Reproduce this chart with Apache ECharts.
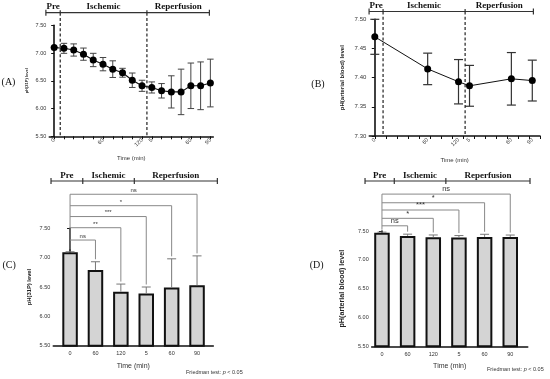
<!DOCTYPE html>
<html><head><meta charset="utf-8">
<script src="https://cdn.jsdelivr.net/npm/echarts@6/dist/echarts.min.js"></script>
<style>html,body{margin:0;padding:0;background:#fff}#c{width:550px;height:379px}</style>
</head><body><div id="c"></div>
<script>
// ---------- Panel A: pH(31P) time course ----------
const aX = [0,1,2,3,4,5,6,7,8,9,10,11,12,13,14,15,16];
const aMean = [7.10,7.085,7.055,6.98,6.875,6.80,6.71,6.645,6.51,6.41,6.38,6.32,6.30,6.30,6.41,6.41,6.46];
const aErr = [0.0,0.09,0.11,0.11,0.12,0.12,0.15,0.08,0.13,0.10,0.10,0.13,0.29,0.41,0.41,0.43,0.43];
const aLabelPos = [0,5,9,10,14,16];
const aLabels = ['0','60','120','5','60','90'];
const aDividers = [-0.85,0.62,9.5,15.9];

// ---------- Panel B: pH(arterial blood) time course ----------
const bX = [0,4.8,7.6,8.6,12.4,14.3];
const bMean = [7.470,7.415,7.393,7.386,7.398,7.395];
const bErr = [0.030,0.027,0.038,0.035,0.045,0.035];
const bTicks = [0,1,2,3,4,5,6,7,8,9,10,11,12,13,14,15];
const bLabels = ['0','60','120','5','60','90'];
const bDividers = [-0.52,0.75,8.2,14.4];

// ---------- Panel C: pH(31P) bars ----------
const cCats = ['0','60','120','5','60','90'];
const cMean = [7.09,6.79,6.42,6.39,6.49,6.53];
const cErr = [0.01,0.14,0.13,0.11,0.49,0.50];
const cSigLevels = [7.30,7.51,7.70,7.885,8.08];
const cSigLabels = ['ns','**','***','*','ns'];
const cDividers = [-0.75,0.5,2.53,5.8];

// ---------- Panel D: pH(arterial blood) bars ----------
const dCats = ['0','60','120','5','60','90'];
const dMean = [7.47,7.415,7.393,7.386,7.398,7.395];
const dErr = [0.01,0.03,0.038,0.035,0.045,0.035];
const dSigLevels = [7.59,7.72,7.864,7.99,8.14];
const dSigLabels = ['ns','*','***','*','ns'];
const dDividers = [-0.66,0.48,2.49,5.77];

const headerNames = ['Pre','Ischemic','Reperfusion'];
const sans = 'Liberation Sans, Arial, sans-serif';
const serif = 'Liberation Serif, Times New Roman, serif';

function near(arr, v){ for (let i=0;i<arr.length;i++) if (Math.abs(arr[i]-v)<1e-6) return i; return -1; }

function yAx(gi, min, max, interval, fs, name, nameSize, nameGap){
  return {type:'value', gridIndex:gi, min:min, max:max, interval:interval,
    axisLine:{show:true, lineStyle:{color:'#111', width:1.6}},
    axisTick:{show:true, length:3, lineStyle:{color:'#111', width:1}},
    axisLabel:{fontSize:fs, color:'#333', fontFamily:sans, margin:3, formatter: v => v.toFixed(2)},
    splitLine:{show:false},
    name:name, nameLocation:'middle', nameGap:nameGap, nameRotate:90, nameMoveOverlap:false,
    nameTextStyle:{fontSize:nameSize, color:'#222', fontFamily:sans, fontWeight:'bold'}};
}
function xAxLine(gi, min, max, ticks, labelPos, labels, nameGap){
  return {type:'value', gridIndex:gi, min:min, max:max,
    axisLine:{show:true, onZero:false, lineStyle:{color:'#111', width:1.6}},
    axisTick:{show:true, length:3, customValues:ticks, lineStyle:{color:'#111', width:1}},
    axisLabel:{customValues:labelPos, rotate:45, fontSize:5.5, color:'#333', fontFamily:sans, margin:3,
      formatter: v => { const i = near(labelPos, v); return i>=0 ? labels[i] : ''; }},
    splitLine:{show:false},
    name:'Time (min)', nameLocation:'middle', nameGap:nameGap, nameMoveOverlap:false,
    nameTextStyle:{fontSize:6, color:'#333', fontFamily:sans}};
}
function xAxBar(gi, min, max, cats){
  const pos = cats.map((c,i)=>i);
  return {type:'value', gridIndex:gi, min:min, max:max,
    axisLine:{show:true, onZero:false, lineStyle:{color:'#111', width:1.6}},
    axisTick:{show:false},
    axisLabel:{customValues:pos, fontSize:5.5, color:'#333', fontFamily:sans, margin:5,
      formatter: v => { const i = Math.round(v); return cats[i] !== undefined ? cats[i] : ''; }},
    splitLine:{show:false},
    name:'Time (min)', nameLocation:'middle', nameGap:16.5, nameMoveOverlap:false,
    nameTextStyle:{fontSize:7, color:'#333', fontFamily:sans}};
}
function errRender(capW, color, lw, upperOnly){
  return function(params, api){
    const x = api.value(0), lo = api.value(1), hi = api.value(2);
    const top = api.coord([x, hi]), bot = api.coord([x, lo]);
    const st = {stroke:color, lineWidth:lw};
    const ch = [
      {type:'line', shape:{x1:top[0], y1:top[1], x2:bot[0], y2:bot[1]}, style:st},
      {type:'line', shape:{x1:top[0]-capW/2, y1:top[1], x2:top[0]+capW/2, y2:top[1]}, style:st}
    ];
    if (!upperOnly) ch.push({type:'line', shape:{x1:bot[0]-capW/2, y1:bot[1], x2:bot[0]+capW/2, y2:bot[1]}, style:st});
    return {type:'group', children:ch};
  };
}

const chart = echarts.init(document.getElementById('c'), null, {renderer:'canvas', width:550, height:379});
chart.setOption({
  animation:false,
  backgroundColor:'#fff',
  grid:[
    {left:49.3, top:25.3, width:164, height:111, outerBoundsMode:'none', containLabel:false},
    {left:369.3, top:19.3, width:170.7, height:116.7, outerBoundsMode:'none', containLabel:false},
    {left:53.3, top:228.3, width:160, height:117.4, outerBoundsMode:'none', containLabel:false},
    {left:371.7, top:231, width:156, height:115.3, outerBoundsMode:'none', containLabel:false}
  ],
  xAxis:[
    xAxLine(0, -0.5, 16.3, aX, aLabelPos, aLabels, 19.5),
    xAxLine(1, -0.5, 15, bTicks, bX, bLabels, 21),
    xAxBar(2, -0.66, 5.64, cCats),
    xAxBar(3, -0.40, 5.68, dCats)
  ],
  yAxis:[
    yAx(0, 5.5, 7.5, 0.5, 5.5, 'pH(31P) level', 4, 20),
    yAx(1, 7.3, 7.5, 0.05, 6, 'pH(arterial blood) level', 6, 23.5),
    yAx(2, 5.5, 7.5, 0.5, 5.5, 'pH(31P) level', 5.8, 21),
    yAx(3, 5.5, 7.5, 0.5, 5.5, 'pH(arterial blood) level', 7.2, 26)
  ],
  series:[
    {type:'custom', xAxisIndex:0, yAxisIndex:0, renderItem:errRender(6.5,'#444',1,false), encode:{x:0,y:[1,2]},
     data:aX.map((x,i)=>[x, aMean[i]-aErr[i], aMean[i]+aErr[i]]), z:2},
    {type:'line', xAxisIndex:0, yAxisIndex:0, data:aX.map((x,i)=>[x,aMean[i]]), symbol:'circle', symbolSize:7,
     itemStyle:{color:'#000'}, lineStyle:{color:'#111', width:1.1}, z:3},
    {type:'custom', xAxisIndex:1, yAxisIndex:1, renderItem:errRender(9,'#333',1.2,false), encode:{x:0,y:[1,2]},
     data:bX.map((x,i)=>[x, bMean[i]-bErr[i], bMean[i]+bErr[i]]), z:2},
    {type:'line', xAxisIndex:1, yAxisIndex:1, data:bX.map((x,i)=>[x,bMean[i]]), symbol:'circle', symbolSize:7,
     itemStyle:{color:'#000'}, lineStyle:{color:'#111', width:1}, z:3},
    {type:'bar', xAxisIndex:2, yAxisIndex:2, barWidth:15.5, data:cMean.map((v,i)=>[i,v]),
     itemStyle:{color:'#d4d4d4', borderColor:'#111', borderWidth:2}},
    {type:'custom', xAxisIndex:2, yAxisIndex:2, renderItem:errRender(9,'#777',1,true), encode:{x:0,y:[1,2]},
     data:cMean.map((v,i)=>[i, v, v+cErr[i]]), z:3},
    {type:'bar', xAxisIndex:3, yAxisIndex:3, barWidth:15.5, data:dMean.map((v,i)=>[i,v]),
     itemStyle:{color:'#d4d4d4', borderColor:'#111', borderWidth:2}},
    {type:'custom', xAxisIndex:3, yAxisIndex:3, renderItem:errRender(9,'#777',1,true), encode:{x:0,y:[1,2]},
     data:dMean.map((v,i)=>[i, v, v+dErr[i]]), z:3}
  ]
});

// ---------- annotations computed through the axes ----------
const px = (g, x, y) => chart.convertToPixel({gridIndex:g}, [x, y]);
const G = [];
const lineEl = (x1,y1,x2,y2,color,w,dash) => ({type:'line', silent:true, z:10,
  shape:{x1,y1,x2,y2}, style:{stroke:color, lineWidth:w, lineDash:dash||null}});
const textEl = (x,y,t,font,size,color,weight,align,vAlign,rich) => ({type:'text', silent:true, z:11, x, y,
  style:{text:t, fontFamily:font, fontSize:size, fill:color, fontWeight:weight||'normal',
    align:align||'center', verticalAlign:vAlign||'middle', rich:rich}});

const headers = [
  {g:0, div:aDividers, yMin:5.5, lineY:12.7, textY:6.3, dashed:true},
  {g:1, div:bDividers, yMin:7.3, lineY:11.5, textY:5.8, dashed:true},
  {g:2, div:cDividers, yMin:5.5, lineY:181, textY:175.3, dashed:false},
  {g:3, div:dDividers, yMin:5.5, lineY:181, textY:175.3, dashed:false}
];
headers.forEach(h => {
  const xs = h.div.map(d => px(h.g, d, h.yMin)[0]);
  const bottom = px(h.g, 0, h.yMin)[1];
  G.push(lineEl(xs[0], h.lineY, xs[3], h.lineY, '#333', 1.2));
  xs.forEach((x, i) => {
    if (h.dashed && (i === 1 || i === 2)) {
      G.push(lineEl(x, h.lineY-2.5, x, h.lineY, '#333', 1.2));
      G.push(lineEl(x, h.lineY, x, bottom, '#222', 1.2, [3,2.2]));
    } else {
      G.push(lineEl(x, h.lineY-3, x, h.lineY+3, '#333', 1.2));
    }
  });
  headerNames.forEach((n, i) => {
    G.push(textEl((xs[i]+xs[i+1])/2, h.textY, n, serif, 9, '#111', 'bold'));
  });
});

function sig(g, means, errs, levels, labels, color, fs){
  const x0 = px(g, 0, means[0])[0];
  const topY = px(g, 0, levels[levels.length-1])[1];
  const cap0 = px(g, 0, means[0]+errs[0])[1];
  G.push(lineEl(x0, topY, x0, cap0-2.5, color, 1));
  levels.forEach((lv, k) => {
    const bi = k + 1;
    const ly = px(g, 0, lv)[1];
    const xk = px(g, bi, lv)[0];
    const capY = px(g, bi, means[bi]+errs[bi])[1];
    G.push(lineEl(x0, ly, xk, ly, color, 1));
    G.push(lineEl(xk, ly, xk, capY-2.5, color, 1));
    G.push(textEl((x0+xk)/2, ly-0.8, labels[k], sans, fs, '#333', 'normal', 'center', 'bottom'));
  });
}
sig(2, cMean, cErr, cSigLevels, cSigLabels, '#888', 6);
sig(3, dMean, dErr, dSigLevels, dSigLabels, '#888', 7.5);

G.push(textEl(8.5, 82.5, '(A)', serif, 10, '#111'));
G.push(textEl(318, 84, '(B)', serif, 10, '#111'));
G.push(textEl(9.2, 265.5, '(C)', serif, 10, '#111'));
G.push(textEl(316.7, 265.5, '(D)', serif, 10, '#111'));
const fr = {i:{fontStyle:'italic', fontFamily:sans, fontSize:5.5, fill:'#333'}};
G.push(textEl(186, 372, 'Friedman test: {i|p} < 0.05', sans, 5.5, '#333', 'normal', 'left', 'middle', fr));
G.push(textEl(487, 369.5, 'Friedman test: {i|p} < 0.05', sans, 5.5, '#333', 'normal', 'left', 'middle', fr));

chart.setOption({graphic:G});
</script>
</body></html>
